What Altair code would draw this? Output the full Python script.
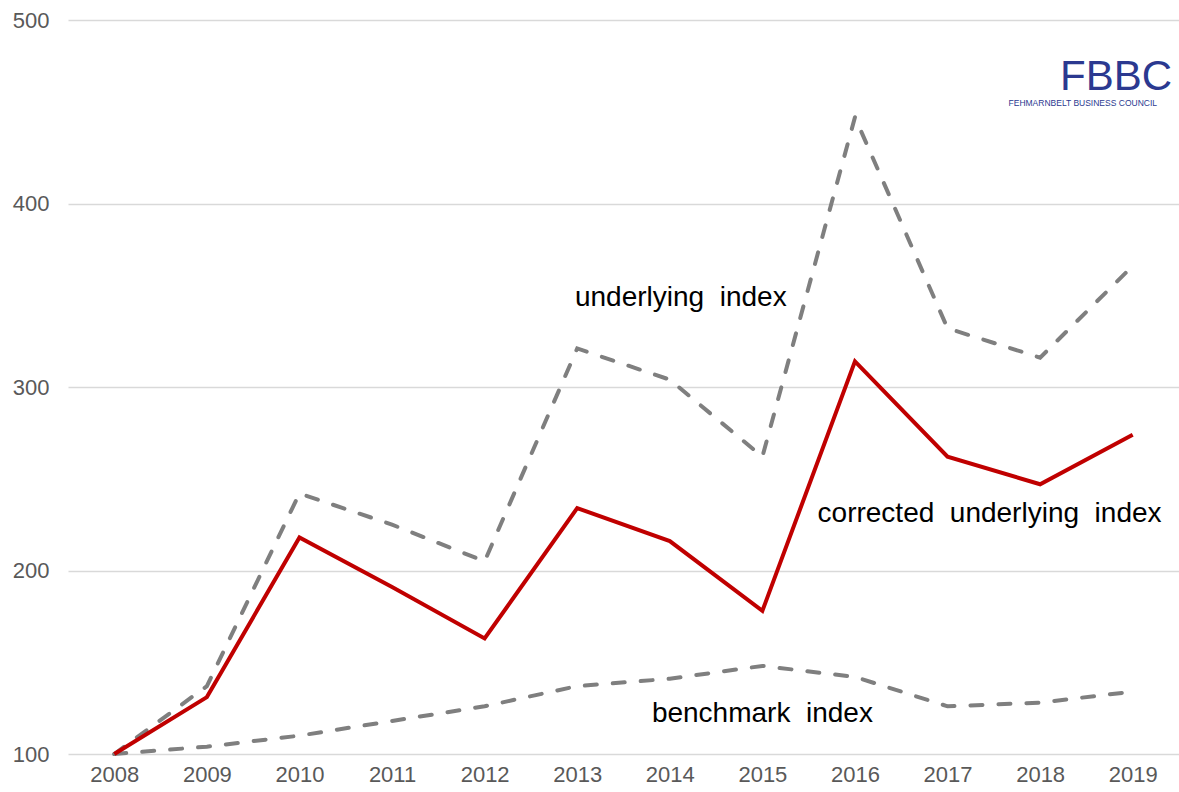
import altair as alt
import pandas as pd

years = [str(y) for y in range(2008, 2020)]
underlying = [100, 137, 242, 225, 205, 321, 304, 262, 447, 332, 316, 366]
corrected = [100, 131, 218, 191, 163, 234, 216, 178, 314, 262, 247, 274]
benchmark = [100, 104, 110, 118, 126, 137, 141, 148, 142, 126, 128, 134]

rows = []
for name, vals in [("underlying index", underlying), ("corrected underlying index", corrected), ("benchmark index", benchmark)]:
    for y, v in zip(years, vals):
        rows.append({"year": y, "value": v, "series": name})
df = pd.DataFrame(rows)

NB = "\u00a0"
label_names = ["underlying" + NB + " index", "corrected" + NB + " underlying" + NB + " index", "benchmark" + NB + " index"]
label_years = ["2014", "2017", "2015"]
label_values = [348.5, 231, 122]
label_dx = [11, 42, 0]
labels = pd.DataFrame({"text": label_names, "year": label_years, "value": label_values})

W, H = 1111, 734
xscale = alt.Scale(domain=years, paddingInner=0, paddingOuter=0.5)
xenc = alt.X("year:O", sort=years, scale=xscale,
             axis=alt.Axis(title=None, labelAngle=0, labelFontSize=22, labelColor="#595959",
                           labelFont="Liberation Sans", domain=False, ticks=False, labelPadding=10, grid=False))
yscale = alt.Scale(domain=[100, 500], nice=False, zero=False)
yenc = alt.Y("value:Q", scale=yscale,
             axis=alt.Axis(title=None, values=[100, 200, 300, 400, 500], labelFontSize=22, labelColor="#595959",
                           labelFont="Liberation Sans", domain=False, ticks=False, labelPadding=19,
                           gridColor="#D9D9D9", gridWidth=1.5))

base = alt.Chart(df)
dashed = base.transform_filter(alt.datum.series != "corrected underlying index").mark_line(
    color="#7F7F7F", strokeWidth=4, strokeDash=[12, 16], strokeCap="round"
).encode(x=xenc, y=yenc, detail="series:N")
red = base.transform_filter(alt.datum.series == "corrected underlying index").mark_line(
    color="#C00000", strokeWidth=4
).encode(x=xenc, y=yenc)

text_layers = []
for i in range(3):
    t = alt.Chart(labels.iloc[[i]]).mark_text(fontSize=28, font="Liberation Sans", color="#000000",
                                               dx=label_dx[i], align="center", baseline="middle").encode(
        x=xenc, y=yenc, text="text:N")
    text_layers.append(t)

logo_df = pd.DataFrame({"a": [0]})
logo_big = alt.Chart(logo_df).mark_text(text="FBBC", fontSize=42, font="Liberation Sans", color="#2B3990",
                                        align="right", baseline="alphabetic").encode(
    x=alt.value(1104), y=alt.value(70))
logo_small = alt.Chart(logo_df).mark_text(text="FEHMARNBELT BUSINESS COUNCIL", fontSize=8.5, font="Liberation Sans",
                                          color="#2B3990", align="right", baseline="middle").encode(
    x=alt.value(1089), y=alt.value(83))

chart = alt.layer(dashed, red, *text_layers, logo_big, logo_small).properties(
    width=W, height=H,
    autosize=alt.AutoSizeParams(type="none"),
    padding={"left": 68, "top": 20, "right": 0, "bottom": 38},
).configure(background="white").configure_view(strokeWidth=0, stroke="transparent")

chart.save("out.html", embed_options={"renderer": "svg", "actions": False})
